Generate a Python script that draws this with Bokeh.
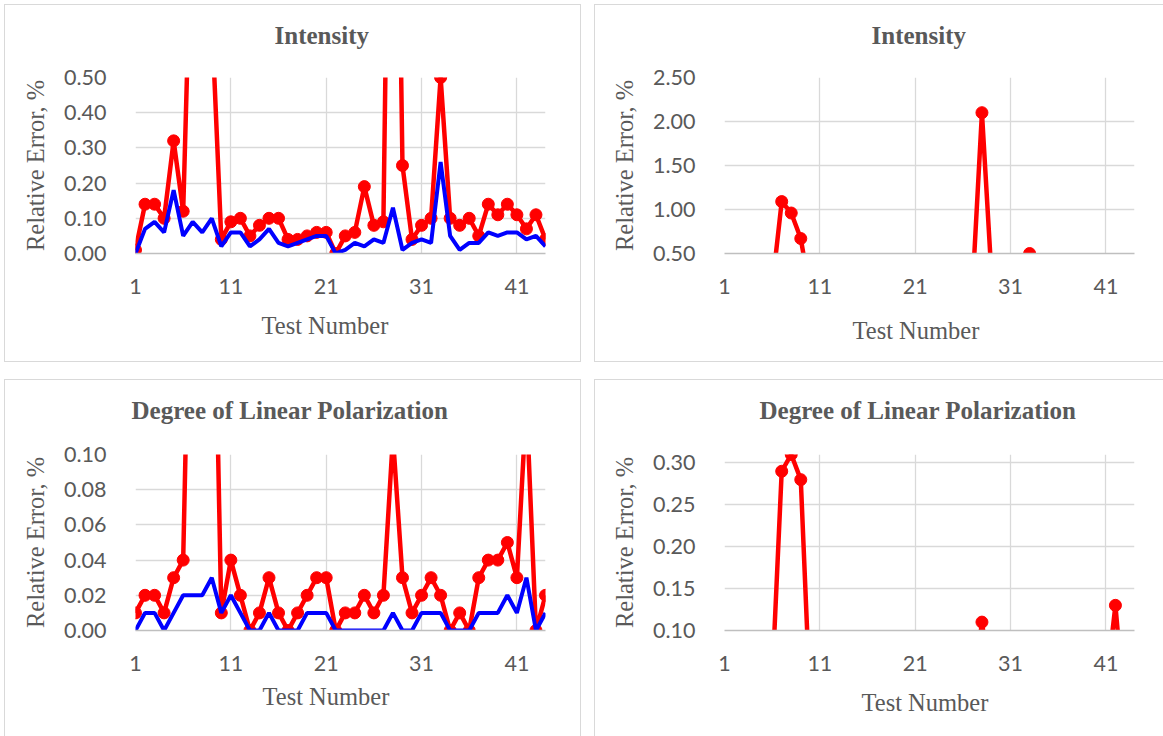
from bokeh.plotting import figure
from bokeh.models import FixedTicker, NumeralTickFormatter, Range1d, Title, LinearAxis
from bokeh.layouts import row, column
from bokeh.embed import file_html
from bokeh.resources import INLINE

tests = list(range(1, 45))
x_ticks = [1, 11, 21, 31, 41]

intensity_red = [0.01, 0.14, 0.14, 0.10, 0.32, 0.12, 1.09, 0.96, 0.67, 0.04,
                 0.09, 0.10, 0.05, 0.08, 0.10, 0.10, 0.04, 0.04, 0.05, 0.06,
                 0.06, 0.00, 0.05, 0.06, 0.19, 0.08, 0.09, 2.10, 0.25, 0.04,
                 0.08, 0.10, 0.50, 0.10, 0.08, 0.10, 0.05, 0.14, 0.11, 0.14,
                 0.11, 0.07, 0.11, 0.04]
intensity_blue = [0.00, 0.07, 0.09, 0.06, 0.18, 0.05, 0.09, 0.06, 0.10, 0.02,
                  0.06, 0.06, 0.02, 0.04, 0.07, 0.03, 0.02, 0.03, 0.04, 0.05,
                  0.05, 0.00, 0.01, 0.03, 0.02, 0.04, 0.03, 0.13, 0.01, 0.03,
                  0.04, 0.03, 0.26, 0.05, 0.01, 0.03, 0.03, 0.06, 0.05, 0.06,
                  0.06, 0.04, 0.05, 0.02]
dolp_red = [0.01, 0.02, 0.02, 0.01, 0.03, 0.04, 0.29, 0.31, 0.28, 0.01,
            0.04, 0.02, 0.00, 0.01, 0.03, 0.01, 0.00, 0.01, 0.02, 0.03,
            0.03, 0.00, 0.01, 0.01, 0.02, 0.01, 0.02, 0.11, 0.03, 0.01,
            0.02, 0.03, 0.02, 0.00, 0.01, 0.00, 0.03, 0.04, 0.04, 0.05,
            0.03, 0.13, 0.00, 0.02]
dolp_blue = [0.00, 0.01, 0.01, 0.00, 0.01, 0.02, 0.02, 0.02, 0.03, 0.01,
             0.02, 0.01, 0.00, 0.00, 0.01, 0.00, 0.00, 0.00, 0.01, 0.01,
             0.01, 0.00, 0.00, 0.00, 0.00, 0.00, 0.00, 0.01, 0.00, 0.00,
             0.01, 0.01, 0.01, 0.00, 0.00, 0.00, 0.01, 0.01, 0.01, 0.02,
             0.01, 0.03, 0.00, 0.01]

titles = ["Intensity", "Intensity", "Degree of Linear Polarization", "Degree of Linear Polarization"]
x_title = "Test Number"
y_title = "Relative Error, %"

TEXT = "#595959"
GRID = "#d9d9d9"


def spacer(size):
    # an axis with one blank tick, used only to reserve space in a side panel
    return LinearAxis(ticker=FixedTicker(ticks=[44]), axis_line_color=None,
                      major_tick_line_color="white", major_tick_line_width=0.5,
                      major_tick_in=0, major_tick_out=size,
                      minor_tick_line_color=None, minor_tick_in=0, minor_tick_out=0,
                      major_label_overrides={44: ""}, major_label_standoff=0,
                      major_label_text_font_size="1px",
                      major_label_text_color="white")


def panel(title, red, blue, yr, yticks, w, h, borders, t_off, t_space, x_off, x_space):
    left, right, top, bottom = borders
    p = figure(width=w, height=h, output_backend="svg", toolbar_location=None,
               x_range=Range1d(1, 44), y_range=Range1d(*yr),
               min_border_left=left, min_border_right=right,
               min_border_top=top, min_border_bottom=bottom)
    p.outline_line_color = None
    p.background_fill_color = "white"
    p.border_fill_color = "white"
    p.styles = {"outline": "1.5px solid #d9d9d9", "outline-offset": "0px"}

    p.xaxis.ticker = FixedTicker(ticks=x_ticks)
    p.yaxis.ticker = FixedTicker(ticks=yticks)
    p.yaxis.formatter = NumeralTickFormatter(format="0.00")
    for ax in (p.xaxis[0], p.yaxis[0]):
        ax.major_tick_line_color = None
        ax.minor_tick_line_color = None
        ax.major_label_text_font = "Lato"
        ax.major_label_text_font_size = "21.5px"
        ax.major_label_text_color = TEXT
    p.xaxis.axis_line_color = "#bfbfbf"
    p.xaxis.axis_line_width = 1.3
    p.xaxis.major_label_standoff = 19
    p.yaxis.axis_line_color = None
    p.yaxis.major_label_standoff = 23
    p.yaxis.axis_label = y_title
    p.yaxis.axis_label_text_font = "Liberation Serif"
    p.yaxis.axis_label_text_font_size = "24.5px"
    p.yaxis.axis_label_text_font_style = "normal"
    p.yaxis.axis_label_text_color = TEXT
    p.yaxis.axis_label_standoff = 12

    p.xgrid.ticker = FixedTicker(ticks=x_ticks)
    p.xgrid.grid_line_color = GRID
    p.ygrid.grid_line_color = GRID
    p.xgrid.grid_line_width = 1.3
    p.ygrid.grid_line_width = 1.3

    p.line(tests, red, line_color="#ff0000", line_width=4.5)
    p.scatter(tests, red, size=12, fill_color="#ff0000", line_color="#ff0000")
    p.line(tests, blue, line_color="#0000ff", line_width=4)

    p.add_layout(spacer(t_space), "above")
    p.add_layout(Title(text=title, align="left", offset=t_off, vertical_align="bottom",
                       standoff=0, text_font="Liberation Serif", text_font_style="bold",
                       text_font_size="25px", text_color=TEXT), "above")
    p.add_layout(spacer(x_space), "below")
    p.add_layout(Title(text=x_title, align="left", offset=x_off, vertical_align="top",
                       standoff=0, text_font="Liberation Serif", text_font_style="normal",
                       text_font_size="24.5px", text_color=TEXT), "below")
    return p


p1 = panel(titles[0], intensity_red, intensity_blue, (0, 0.5),
           [0, 0.1, 0.2, 0.3, 0.4, 0.5], 575, 356, (130, 35, 72, 108),
           139, 29, 126, 15)
p2 = panel(titles[1], intensity_red, intensity_blue, (0.5, 2.5),
           [0.5, 1.0, 1.5, 2.0, 2.5], 568, 356, (129, 29, 72, 108),
           147, 29, 128, 20)
p3 = panel(titles[2], dolp_red, dolp_blue, (0, 0.1),
           [0, 0.02, 0.04, 0.06, 0.08, 0.10], 575, 356, (130, 35, 74, 106),
           -4, 31, 127, 9)
p4 = panel(titles[3], dolp_red, dolp_blue, (0.1, 0.31),
           [0.10, 0.15, 0.20, 0.25, 0.30], 568, 356, (129, 29, 74, 106),
           35, 31, 137, 15)

layout = column(row(p1, p2, spacing=15), row(p3, p4, spacing=15),
                spacing=19, margin=(5, 0, 0, 5))

open("out.html", "w").write(file_html(layout, INLINE))
